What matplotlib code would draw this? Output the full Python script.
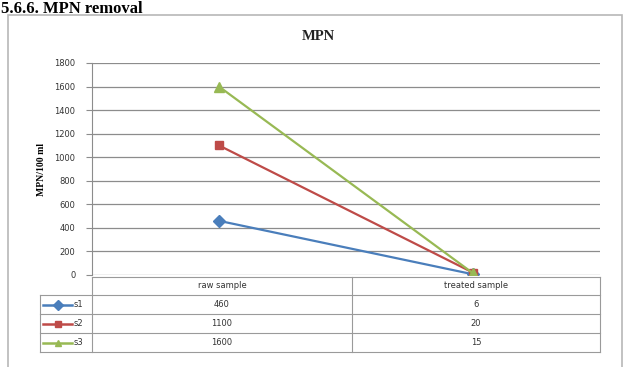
import matplotlib
matplotlib.use("Agg")
import matplotlib.pyplot as plt
from matplotlib.lines import Line2D
from matplotlib.patches import Rectangle

categories = ["raw sample", "treated sample"]
series_names = ["s1", "s2", "s3"]
s1 = [460, 6]
s2 = [1100, 20]
s3 = [1600, 15]
yticks = [0, 200, 400, 600, 800, 1000, 1200, 1400, 1600, 1800]

colors = ["#4a7ebb", "#be4b48", "#98b954"]
markers = ["D", "s", "^"]
series = [s1, s2, s3]

W, H = 630, 367
fig = plt.figure(figsize=(W / 100, H / 100), dpi=100)


def fx(x):
    return x / W


def fy(y):
    return 1 - y / H


# page heading
fig.text(fx(1), fy(13), "5.6.6. MPN removal", family="Liberation Serif",
         weight="bold", fontsize=12, ha="left", va="baseline")

# chart frame (bottom edge runs past the figure)
fig.patches.append(Rectangle((fx(8), fy(372)), fx(614), fy(15) - fy(372),
                             transform=fig.transFigure, fill=False,
                             edgecolor="#b8b8b8", lw=1.2))

fig.text(fx(318), fy(37), "MPN", family="Liberation Serif", weight="bold",
         fontsize=10.5, ha="center", va="center", color="#222222")

# plot area
L, R, T, B = 92, 600, 63, 275
ax = fig.add_axes([fx(L), fy(B), fx(R - L), fy(T) - fy(B)])
x = [0, 1]
for vals, c, m in zip(series, colors, markers):
    ms = 6 if m != "^" else 7
    ax.plot(x, vals, color=c, lw=1.6, marker=m, ms=ms, mec=c, mfc=c, zorder=3)
ax.set_xlim(-0.5, 1.5)
ax.set_ylim(0, 1800)
ax.set_yticks(yticks)
ax.set_yticklabels([str(t) for t in yticks], fontsize=6, color="#333333")
ax.set_xticks([])
ax.grid(axis="y", color="#8c8c8c", lw=0.9)
for s in ["top", "right", "bottom"]:
    ax.spines[s].set_visible(False)
ax.spines["left"].set_color("#8c8c8c")
ax.tick_params(axis="y", length=4, color="#8c8c8c", pad=8)
ax.set_ylabel("MPN/100 ml", family="Liberation Serif", weight="bold",
              fontsize=7, labelpad=6)
ax.patch.set_alpha(0)

# data table below the plot
col_x = [40, 92, 352, 600]
row_y = [277, 295, 314, 333, 352]
lc = "#9a9a9a"
for yy in row_y[1:]:
    fig.add_artist(Line2D([fx(40), fx(600)], [fy(yy), fy(yy)], color=lc, lw=0.8))
fig.add_artist(Line2D([fx(92), fx(600)], [fy(row_y[0]), fy(row_y[0])], color=lc, lw=0.8))
fig.add_artist(Line2D([fx(40), fx(40)], [fy(row_y[1]), fy(row_y[-1])], color=lc, lw=0.8))
for xx in col_x[1:]:
    fig.add_artist(Line2D([fx(xx), fx(xx)], [fy(row_y[0]), fy(row_y[-1])], color=lc, lw=0.8))

for j, cat in enumerate(categories):
    cx = (col_x[j + 1] + col_x[j + 2]) / 2
    fig.text(fx(cx), fy((row_y[0] + row_y[1]) / 2), cat, fontsize=6,
             ha="center", va="center", color="#333333")

for i, (name, vals, c, m) in enumerate(zip(series_names, series, colors, markers)):
    cy = (row_y[i + 1] + row_y[i + 2]) / 2
    fig.add_artist(Line2D([fx(43), fx(72)], [fy(cy), fy(cy)], color=c, lw=1.8))
    fig.add_artist(Line2D([fx(57.5)], [fy(cy)], color=c, marker=m, ms=5,
                          mec=c, mfc=c, ls="none"))
    fig.text(fx(74), fy(cy), name, fontsize=6, ha="left", va="center",
             color="#333333")
    for j, v in enumerate(vals):
        cx = (col_x[j + 1] + col_x[j + 2]) / 2
        fig.text(fx(cx), fy(cy), str(v), fontsize=6, ha="center",
                 va="center", color="#333333")

fig.savefig("out.png", dpi=100)
